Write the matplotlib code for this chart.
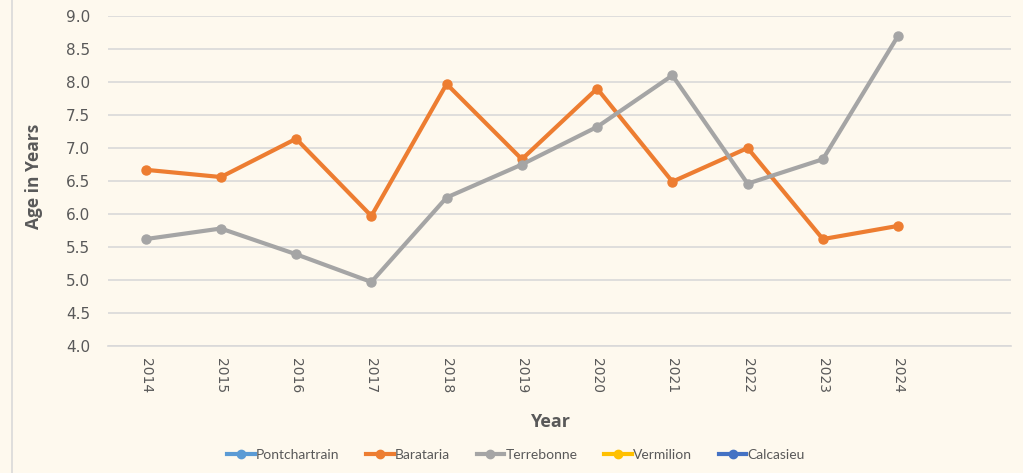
import numpy as np
import matplotlib
matplotlib.use("Agg")
import matplotlib.pyplot as plt
from matplotlib.lines import Line2D

years = ["2014", "2015", "2016", "2017", "2018", "2019", "2020", "2021", "2022", "2023", "2024", ""]
pontchartrain = [np.nan] * 12
barataria = [6.67, 6.56, 7.14, 5.97, 7.97, 6.83, 7.90, 6.49, 7.00, 5.62, 5.82, np.nan]
terrebonne = [5.62, 5.78, 5.39, 4.97, 6.25, 6.75, 7.32, 8.10, 6.46, 6.83, 8.70, np.nan]
vermilion = [np.nan] * 12
calcasieu = [np.nan] * 12

series = [
    ("Pontchartrain", pontchartrain, "#5B9BD5"),
    ("Barataria", barataria, "#ED7D31"),
    ("Terrebonne", terrebonne, "#A5A5A5"),
    ("Vermilion", vermilion, "#FFC000"),
    ("Calcasieu", calcasieu, "#4472C4"),
]

bg = "#FEF9EE"
txt = "#595959"
W, H = 1023, 473
fig = plt.figure(figsize=(W / 100, H / 100), dpi=100, facecolor=bg)
ax = fig.add_axes([108 / W, 1 - 346 / H, (1011 - 108) / W, (346 - 16) / H])
ax.set_facecolor(bg)

x = np.arange(len(years))
handles = []
for name, vals, col in series:
    ax.plot(x, vals, color=col, lw=3, marker="o", ms=6.5, zorder=3)
    handles.append(Line2D([], [], color=col, lw=3, marker="o", ms=6, label=name))

ax.set_xlim(-0.5, 11.5)
ax.set_ylim(4.0, 9.0)
yt = np.arange(4.0, 9.01, 0.5)
ax.set_yticks(yt)
ax.set_yticklabels([f"{v:.1f}" for v in yt], fontsize=11, color=txt, family="DejaVu Sans")
ax.set_xticks(x)
ax.set_xticklabels(years, rotation=-90, fontsize=10, color=txt, family="DejaVu Sans")
ax.tick_params(axis="both", length=0)
ax.tick_params(axis="y", pad=13)
ax.tick_params(axis="x", pad=9)
ax.grid(axis="y", color="#D9D9D9", lw=1.2, zorder=0)
for s in ["top", "right", "left"]:
    ax.spines[s].set_visible(False)
ax.spines["bottom"].set_color("#D9D9D9")
ax.spines["bottom"].set_linewidth(1.2)

fig.text(34 / W, 1 - 176 / H, "Age in Years", rotation=90, ha="center", va="center",
         fontsize=12.5, fontweight="bold", color=txt, family="Open Sans")
fig.text(550 / W, 1 - 422 / H, "Year", ha="center", va="center",
         fontsize=13, fontweight="bold", color=txt, family="Open Sans")

fig.legend(handles=handles, loc="center", bbox_to_anchor=(516 / W, 1 - 455 / H), ncol=5,
           frameon=False, handlelength=2.0, handletextpad=0.1,
           columnspacing=1.9, labelcolor=txt, prop={"family": "Lato", "size": 10})

# light border on left
fig.add_artist(Line2D([12 / W, 12 / W], [0, 1], color="#D9D9D9", lw=1.2, transform=fig.transFigure))

fig.savefig("out.png", dpi=100, facecolor=bg)
